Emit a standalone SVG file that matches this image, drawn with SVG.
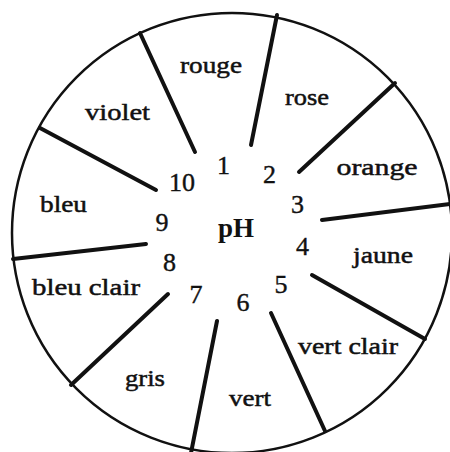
<svg xmlns="http://www.w3.org/2000/svg" width="450" height="452" viewBox="0 0 450 452">
<style>
.lbl{font-family:"Liberation Serif","Times New Roman",serif;font-size:24px;fill:#111;stroke:#111;stroke-width:0.5;text-anchor:middle}
.num{font-family:"Liberation Serif","Times New Roman",serif;font-size:26px;fill:#111;stroke:#111;stroke-width:0.4;text-anchor:middle}
.ph{font-family:"Liberation Serif","Times New Roman",serif;font-size:27px;font-weight:bold;fill:#111;text-anchor:middle}
.spoke{stroke:#111;stroke-width:4;stroke-linecap:round;fill:none}
</style>
<rect width="450" height="452" fill="#fff"/>
<circle id="rim" cx="232" cy="233" r="220" fill="none" stroke="#111" stroke-width="2.5"/>
<g id="connectors">
<line class="spoke" x1="195" y1="152" x2="140" y2="33"/>
<line class="spoke" x1="251" y1="145" x2="277" y2="15"/>
<line class="spoke" x1="299" y1="172" x2="395" y2="83"/>
<line class="spoke" x1="322" y1="220" x2="450" y2="204"/>
<line class="spoke" x1="312" y1="275" x2="425" y2="339"/>
<line class="spoke" x1="271" y1="313" x2="325" y2="431"/>
<line class="spoke" x1="217" y1="321" x2="191" y2="453"/>
<line class="spoke" x1="168" y1="294" x2="71" y2="385"/>
<line class="spoke" x1="146" y1="244" x2="13" y2="259"/>
<line class="spoke" x1="156" y1="190" x2="40" y2="128"/>
</g>
<g id="center"><text class="ph" x="236" y="237">pH</text></g>
<g id="ph1"><text class="num" x="223.5" y="174">1</text><text class="lbl" x="211" y="73" textLength="62" lengthAdjust="spacingAndGlyphs">rouge</text></g>
<g id="ph2"><text class="num" x="269.5" y="183">2</text><text class="lbl" x="307" y="105" textLength="44" lengthAdjust="spacingAndGlyphs">rose</text></g>
<g id="ph3"><text class="num" x="297.5" y="213">3</text><text class="lbl" x="377" y="175" textLength="81" lengthAdjust="spacingAndGlyphs">orange</text></g>
<g id="ph4"><text class="num" x="302.5" y="255">4</text><text class="lbl" x="383" y="263" textLength="60" lengthAdjust="spacingAndGlyphs">jaune</text></g>
<g id="ph5"><text class="num" x="281" y="293">5</text><text class="lbl" x="348" y="354" textLength="100" lengthAdjust="spacingAndGlyphs">vert clair</text></g>
<g id="ph6"><text class="num" x="243" y="311">6</text><text class="lbl" x="250" y="406" textLength="42" lengthAdjust="spacingAndGlyphs">vert</text></g>
<g id="ph7"><text class="num" x="196" y="303">7</text><text class="lbl" x="145" y="386" textLength="40" lengthAdjust="spacingAndGlyphs">gris</text></g>
<g id="ph8"><text class="num" x="169.5" y="271">8</text><text class="lbl" x="86" y="295" textLength="108" lengthAdjust="spacingAndGlyphs">bleu clair</text></g>
<g id="ph9"><text class="num" x="162" y="231">9</text><text class="lbl" x="63.5" y="212" textLength="47" lengthAdjust="spacingAndGlyphs">bleu</text></g>
<g id="ph10"><text class="num" x="182" y="191">10</text><text class="lbl" x="117.5" y="120" textLength="65" lengthAdjust="spacingAndGlyphs">violet</text></g>
</svg>
